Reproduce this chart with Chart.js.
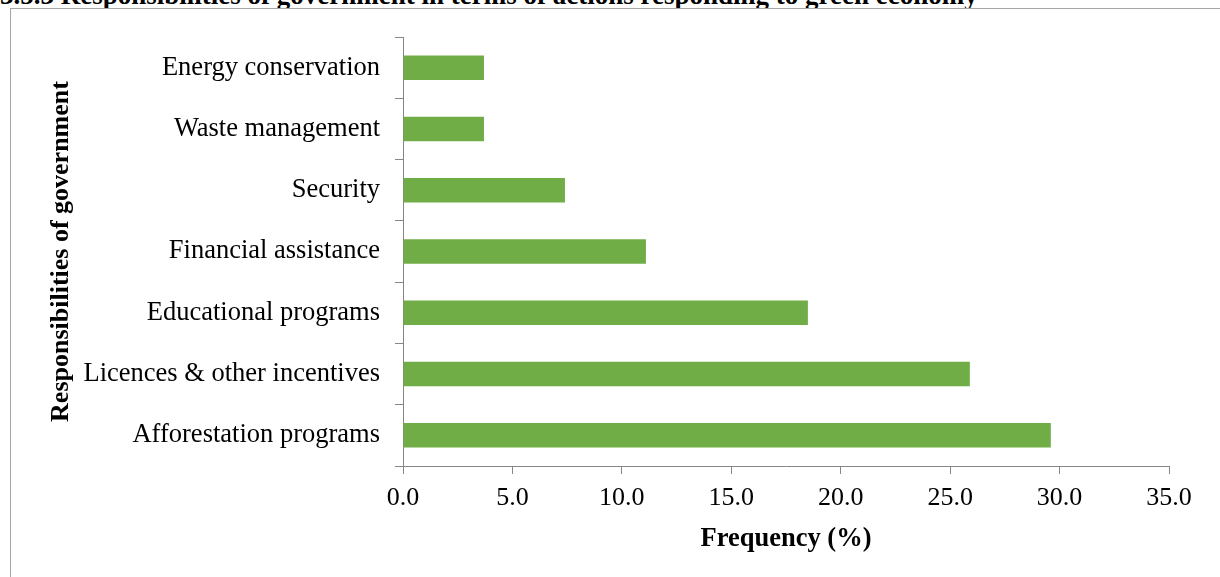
<!DOCTYPE html>
<html>
<head>
<meta charset="utf-8">
<script src="https://cdn.jsdelivr.net/npm/chart.js@4.4.1/dist/chart.umd.min.js"></script>
<style>
  html, body { margin: 0; padding: 0; background: #fff; overflow: hidden; }
  #page { position: relative; width: 1220px; height: 577px; overflow: hidden; }
  #heading { position: absolute; left: 0; top: -15px; white-space: nowrap;
    font: bold 27px "Liberation Serif", "Times New Roman", serif; line-height: 20px; color: #000; }
  #box { position: absolute; left: 10px; top: 8px; width: 1220px; height: 600px;
    border: 1px solid #a6a6a6; box-sizing: border-box; background: #fff; }
  #wrap { position: absolute; left: 0; top: 0; width: 1220px; height: 577px; }
</style>
</head>
<body>
<div id="page">
  <div id="heading">3.5.3 Responsibilities of government in terms of actions responding to green economy</div>
  <div id="box"></div>
  <div id="wrap"><canvas id="c"></canvas></div>
</div>
<script>
const categories = [
  "Energy conservation",
  "Waste management",
  "Security",
  "Financial assistance",
  "Educational programs",
  "Licences & other incentives",
  "Afforestation programs"
];
const frequency = [3.7, 3.7, 7.4, 11.1, 18.5, 25.9, 29.6];
const xTicks = [0, 5, 10, 15, 20, 25, 30, 35];
const xTitle = "Frequency (%)";
const yTitle = "Responsibilities of government";

const serif = "'Liberation Serif', 'Times New Roman', serif";

new Chart(document.getElementById('c'), {
  type: 'bar',
  data: {
    labels: categories,
    datasets: [{
      data: frequency,
      backgroundColor: '#70ad47',
      borderWidth: 0,
      barPercentage: 0.8,
      categoryPercentage: 0.5
    }]
  },
  options: {
    indexAxis: 'y',
    responsive: true,
    maintainAspectRatio: false,
    animation: false,
    layout: { padding: { left: 40, top: 37, right: 51, bottom: 22 } },
    plugins: { legend: { display: false }, tooltip: { enabled: false } },
    scales: {
      x: {
        min: 0, max: 35,
        afterBuildTicks: (s) => { s.ticks = xTicks.map(v => ({ value: v })); },
        afterFit: (s) => { s.height = 89; },
        ticks: {
          color: '#000',
          font: { family: serif, size: 26 },
          padding: 9,
          maxRotation: 0,
          callback: (v) => Number(v).toFixed(1)
        },
        grid: { display: true, drawOnChartArea: false, drawTicks: true, tickLength: 8, color: '#868686', lineWidth: 1 },
        border: { display: true, color: '#868686', width: 1 },
        title: { display: true, text: xTitle, color: '#000', font: { family: serif, size: 26.5, weight: 'bold' }, padding: { top: 4, bottom: 0 } }
      },
      y: {
        afterFit: (s) => { s.width = 363; },
        ticks: {
          color: '#000',
          font: { family: serif, size: 26.5 },
          padding: 15
        },
        grid: { display: true, offset: true, drawOnChartArea: false, drawTicks: true, tickLength: 8, color: '#868686', lineWidth: 1 },
        border: { display: true, color: '#868686', width: 1 },
        title: { display: true, text: yTitle, color: '#000', font: { family: serif, size: 26, weight: 'bold' }, padding: { top: 6, bottom: 0 } }
      }
    }
  }
});
</script>
</body>
</html>
